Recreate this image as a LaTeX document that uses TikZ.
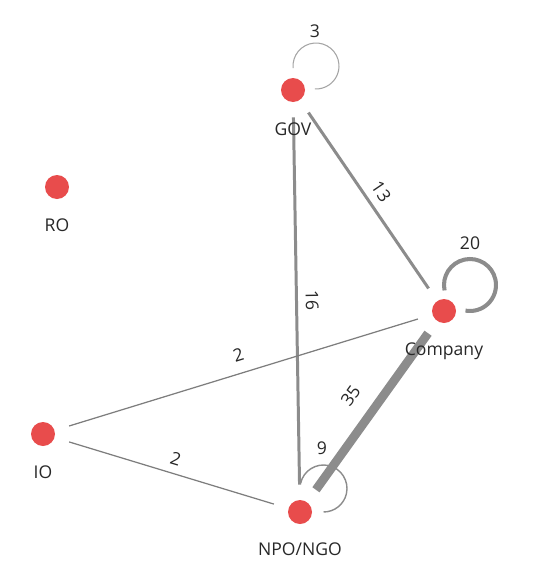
\documentclass[tikz,border=0pt]{standalone}
\usepackage{fontspec}
\setmainfont{Open Sans}
\usetikzlibrary{positioning}
\definecolor{nodered}{RGB}{232,76,76}
\definecolor{edgegray}{RGB}{140,140,140}
\definecolor{thingray}{RGB}{125,125,125}
\definecolor{loopgray}{RGB}{165,165,165}
\definecolor{labelgray}{RGB}{40,40,40}

\begin{document}
\begin{tikzpicture}[
    vertex/.style={
        circle,
        fill=nodered,
        minimum size=0.48cm,
        inner sep=0pt
    },
    vname/.style={
        inner sep=0pt,
        text=labelgray,
        font=\fontsize{10}{12}\selectfont
    },
    elabel/.style={
        inner sep=0.333em,
        text=labelgray,
        font=\fontsize{10}{12}\selectfont
    },
    edge/.style={
        draw=edgegray,
        shorten >=0.3cm,
        shorten <=0.3cm
    }
]
\useasboundingbox[fill=white] (0,0) rectangle (10.64,-11.6);

% ---------------- Vertices ----------------
\node[vertex] (gov) at (5.86,-1.80) {};
\node[vertex] (ro) at (1.14,-3.74) {};
\node[vertex] (company) at (8.88,-6.22) {};
\node[vertex] (io) at (0.86,-8.68) {};
\node[vertex] (npo) at (6.00,-10.24) {};

% ---------------- Edges ----------------
\draw[edge, line width=1.7pt] (gov) -- (company)
    node[elabel, midway, sloped, above=1pt] {13};
\draw[edge, line width=1.7pt] (gov) -- (npo)
    node[elabel, midway, sloped, above=1pt] {16};
\draw[edge, line width=5pt] (npo) -- (company)
    node[elabel, midway, sloped, above=5.5pt] {35};
\draw[edge, draw=thingray, line width=0.7pt] (io) -- (company)
    node[elabel, midway, sloped, above=3pt] {2};
\draw[edge, draw=thingray, line width=0.7pt] (io) -- (npo)
    node[elabel, midway, sloped, above=1pt] {2};

% ---------------- Self loops ----------------
\draw[loopgray, line width=0.6pt] (gov.center) ++(0.46,0.48) ++(185:0.46)
    arc[start angle=185, end angle=-93, radius=0.46];
\node[elabel] (govloop) at ([shift={(0.44,1.18)}]gov.center) {3};

\draw[edgegray, line width=2.3pt] (company.center) ++(0.52,0.52) ++(192:0.52)
    arc[start angle=192, end angle=-100, radius=0.52];
\node[elabel] (companyloop) at ([shift={(0.52,1.36)}]company.center) {20};

\draw[edgegray, line width=0.8pt] (npo.center) ++(0.47,0.47) ++(167:0.47)
    arc[start angle=167, end angle=-90, radius=0.47];
\node[elabel] (npoloop) at ([shift={(0.44,1.28)}]npo.center) {9};

% ---------------- Vertex names ----------------
\node[vname, below=0.4cm of gov] (govname) {GOV};
\node[vname, below=0.38cm of ro] (roname) {RO};
\node[vname, below=0.38cm of company] (companyname) {Company};
\node[vname, below=0.38cm of io] (ioname) {IO};
\node[vname, below=0.36cm of npo] (nponame) {NPO/NGO};

\end{tikzpicture}
\end{document}
